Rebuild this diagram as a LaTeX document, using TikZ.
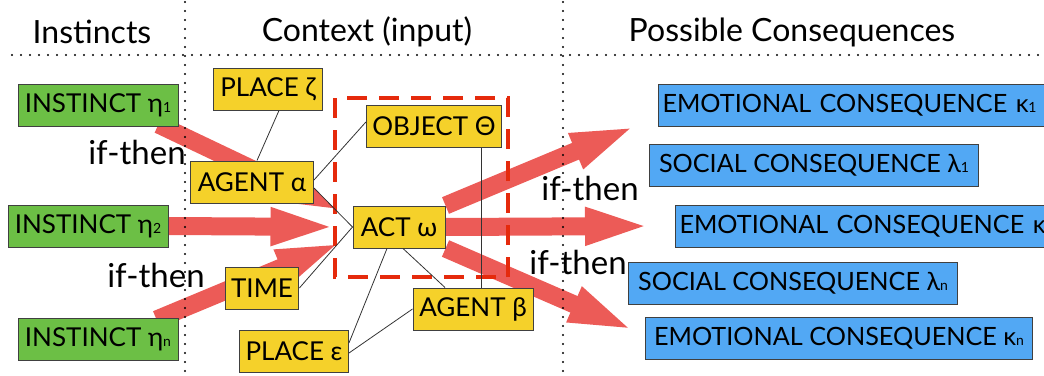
\documentclass[tikz,border=0pt]{standalone}
\usepackage{fontspec}
\setmainfont{Lato}
\usetikzlibrary{calc}
\usetikzlibrary{arrows.meta}
\usetikzlibrary{backgrounds}
\definecolor{instgreen}{HTML}{6CBF45}
\definecolor{ctxyellow}{HTML}{F5D12A}
\definecolor{consblue}{HTML}{52A8F4}
\definecolor{arrowred}{HTML}{EC5B57}
\definecolor{framered}{HTML}{E52A0C}
\newcommand{\idx}[1]{{\scriptsize #1}}

\begin{document}
\begin{tikzpicture}[x=0.5pt,y=-0.5pt,
  box/.style={draw=black!75, line width=0.5pt, minimum height=21pt, inner xsep=3pt, inner ysep=0pt, font=\fontsize{13}{15}\selectfont},
  inst/.style={box, fill=instgreen, minimum width=80pt},
  ctx/.style={box, fill=ctxyellow},
  cons/.style={box, fill=consblue, anchor=west, font=\fontsize{12.6}{15}\selectfont},
  fat/.style={draw=arrowred, line width=9pt, -{Triangle[length=36pt,width=16pt]}},
  link/.style={draw=black!80, line width=0.4pt},
  dots/.style={line width=1.2pt, line cap=round, dash pattern=on 0pt off 4.5pt},
  title/.style={font=\fontsize{16}{18}\selectfont},
  ifthen/.style={font=\fontsize{16.5}{18}\selectfont, inner sep=0pt}]
\useasboundingbox (0,0) rectangle (1044,375);
\clip (0,0) rectangle (1044,375);

% instincts
\node[inst] (eta1) at (98,105) {INSTINCT η\idx{1}};
\node[inst] (eta2) at (88,226) {INSTINCT η\idx{2}};
\node[inst] (etan) at (98,339) {INSTINCT η\idx{n}};

% context
\node[ctx, minimum width=54.5pt] (placez) at (268,89) {PLACE ζ};
\node[ctx, minimum width=65pt] (object) at (434,126) {OBJECT Θ};
\node[ctx, minimum width=61.5pt] (agenta) at (252,182) {AGENT α};
\node[ctx, minimum width=46pt] (act) at (399,227) {ACT ω};
\node[ctx, minimum width=34pt] (time) at (262,288) {TIME};
\node[ctx, minimum width=60pt] (agentb) at (473,309) {AGENT β};
\node[ctx, minimum width=53pt] (placee) at (294,351) {PLACE ε};

% consequences
\node[cons, inner xsep=2pt, text width=200pt, align=left] (emo1) at (658,105) {EMOTIONAL CONSEQUENCE κ\idx{1}};
\node[cons, minimum width=164.5pt] (soc1) at (649,165) {SOCIAL CONSEQUENCE λ\idx{1}};
\node[cons, inner xsep=2pt, text width=200pt, align=left] (emo2) at (675,226) {EMOTIONAL CONSEQUENCE κ\idx{2}};
\node[cons, minimum width=164.5pt] (socn) at (628,283) {SOCIAL CONSEQUENCE λ\idx{n}};
\node[cons, minimum width=193.5pt] (emon) at (645,338) {EMOTIONAL CONSEQUENCE κ\idx{n}};

\begin{scope}[on background layer]
\draw[fat] ([xshift=-10pt,yshift=1pt]eta1.south east) -- ([xshift=-3pt,yshift=6.5pt]act.west);
\draw[fat] (eta2.east) -- ([xshift=-5pt]act.west);
\draw[fat] ([xshift=-11pt,yshift=-1pt]etan.north east) -- ([xshift=-2.5pt,yshift=-6.5pt]act.west);
\draw[fat] (act.north east) -- ([xshift=-8pt,yshift=1.5pt]emo1.south west);
\draw[fat] (act.east) -- ([xshift=-9pt]emo2.west);
\draw[fat] (act.south east) -- ([xshift=-2.5pt,yshift=2.5pt]emon.west);
\end{scope}

% columns
\foreach \x in {185,563}
  \draw[dots] (\x,2) -- (\x,375);
\draw[dots] (12,55) -- (1044,55);
\node[title] (hinst) at (92,32) {Instincts};
\node[title] (hctx) at (367,32) {Context (input)};
\node[title] (hcons) at (792,32) {Possible Consequences};

\draw[framered, line width=2pt, dash pattern=on 10pt off 6pt] (335,98) rectangle (508,277);

% links between context items
\draw[link] ([xshift=5.5pt]placez.south) -- ([xshift=2.5pt]agenta.north);
\draw[link] ([yshift=1pt]agenta.east) -- ([yshift=2pt]object.west);
\draw[link] ([yshift=-3pt]agenta.east) -- (act.west);
\draw[link] (time.east) -- (act.west);
\draw[link] ([xshift=23.5pt]object.south) -- ([xshift=23.5pt]object.south |- agentb.north);
\draw[link] ([xshift=2pt]act.south) -- ([xshift=-14pt]agentb.north);
\draw[link] ([xshift=-6pt]act.south) -- ([yshift=4pt]placee.east);
\draw[link] ([yshift=-1pt]placee.east) -- (agentb.west);

\node[ifthen] (if1) at (137,152) {if-then};
\node[ifthen] (if2) at (156,275) {if-then};
\node[ifthen] (if3) at (590,188) {if-then};
\node[ifthen] (if4) at (578,262) {if-then};
\end{tikzpicture}
\end{document}
